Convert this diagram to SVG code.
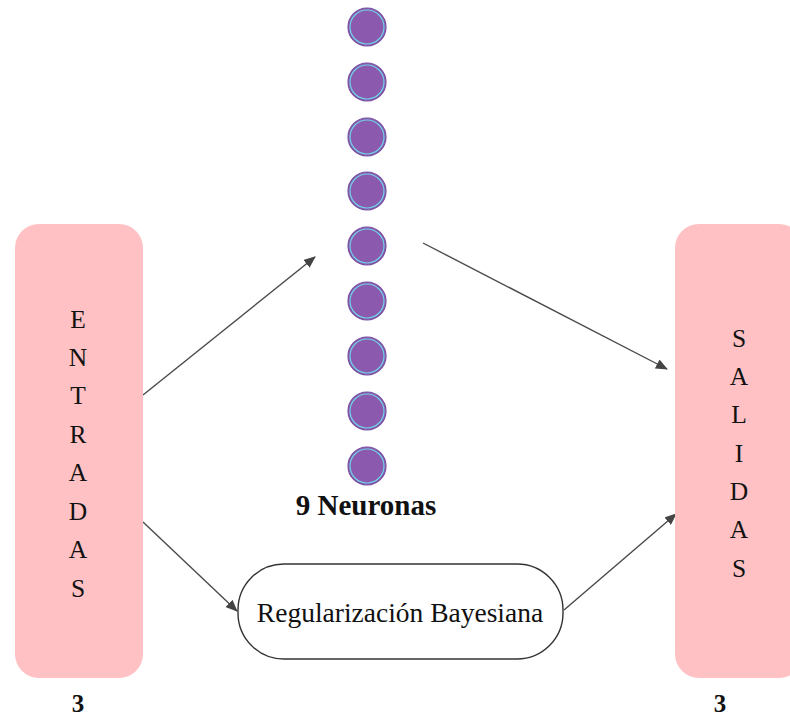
<svg xmlns="http://www.w3.org/2000/svg" width="790" height="718" viewBox="0 0 790 718">
  <defs>
    <style>
      .box { fill: #ffc1c4; }
      .letter { font-family: "Liberation Serif", "Times New Roman", serif; font-size: 25.5px; fill: #111; text-anchor: middle; }
      .neuron { fill: #8b5aae; stroke: #7a4fa3; stroke-width: 1.2; }
      .ring { fill: none; stroke: #6fd3e6; stroke-width: 1.2; }
      .edge { stroke: #4a4a4a; stroke-width: 1.4; fill: none; marker-end: url(#arrow); }
      .label { font-family: "Liberation Serif", "Times New Roman", serif; fill: #111; text-anchor: middle; }
      .bold { font-weight: bold; }
    </style>
    <marker id="arrow" viewBox="0 0 12 10" refX="11" refY="5" markerWidth="12" markerHeight="10" markerUnits="userSpaceOnUse" orient="auto">
      <path d="M0,0 L12,5 L0,10 Z" fill="#444"/>
    </marker>
  </defs>

  <rect width="790" height="718" fill="#ffffff"/>

  <!-- connectors -->
  <g id="connectors">
    <line class="edge" x1="143" y1="395" x2="315" y2="257"/>
    <line class="edge" x1="423" y1="243" x2="667" y2="369"/>
    <line class="edge" x1="143" y1="522" x2="237" y2="611"/>
    <line class="edge" x1="564" y1="610" x2="676" y2="514"/>
  </g>

  <!-- input block -->
  <g id="entradas">
    <rect class="box" x="15" y="224" width="128" height="454" rx="24" ry="24"/>
    <text class="letter" x="78" y="328">E</text>
    <text class="letter" x="78" y="366">N</text>
    <text class="letter" x="78" y="404">T</text>
    <text class="letter" x="78" y="443">R</text>
    <text class="letter" x="78" y="481">A</text>
    <text class="letter" x="78" y="520">D</text>
    <text class="letter" x="78" y="558">A</text>
    <text class="letter" x="78" y="597">S</text>
    <text class="label bold" x="78" y="712" font-size="25">3</text>
  </g>

  <!-- output block -->
  <g id="salidas">
    <rect class="box" x="675" y="224" width="128" height="454" rx="24" ry="24"/>
    <text class="letter" x="739" y="347">S</text>
    <text class="letter" x="739" y="385">A</text>
    <text class="letter" x="739" y="423">L</text>
    <text class="letter" x="739" y="462">I</text>
    <text class="letter" x="739" y="500">D</text>
    <text class="letter" x="739" y="538">A</text>
    <text class="letter" x="739" y="577">S</text>
    <text class="label bold" x="720" y="712" font-size="25">3</text>
  </g>

  <!-- hidden layer -->
  <g id="neuronas">
    <circle class="neuron" cx="367" cy="27" r="19"/><circle class="ring" cx="367" cy="27" r="17"/>
    <circle class="neuron" cx="367" cy="82" r="19"/><circle class="ring" cx="367" cy="82" r="17"/>
    <circle class="neuron" cx="367" cy="137" r="19"/><circle class="ring" cx="367" cy="137" r="17"/>
    <circle class="neuron" cx="367" cy="191" r="19"/><circle class="ring" cx="367" cy="191" r="17"/>
    <circle class="neuron" cx="367" cy="246" r="19"/><circle class="ring" cx="367" cy="246" r="17"/>
    <circle class="neuron" cx="367" cy="301" r="19"/><circle class="ring" cx="367" cy="301" r="17"/>
    <circle class="neuron" cx="367" cy="356" r="19"/><circle class="ring" cx="367" cy="356" r="17"/>
    <circle class="neuron" cx="367" cy="411" r="19"/><circle class="ring" cx="367" cy="411" r="17"/>
    <circle class="neuron" cx="367" cy="466" r="19"/><circle class="ring" cx="367" cy="466" r="17"/>
    <text class="label bold" x="366" y="515" font-size="29">9 Neuronas</text>
  </g>

  <!-- regularization stage -->
  <g id="regularizacion">
    <rect x="238" y="564" width="325" height="95" rx="46" ry="46" fill="#ffffff" stroke="#333" stroke-width="1.4"/>
    <text class="label" x="400" y="622" font-size="27.5">Regularización Bayesiana</text>
  </g>
</svg>
